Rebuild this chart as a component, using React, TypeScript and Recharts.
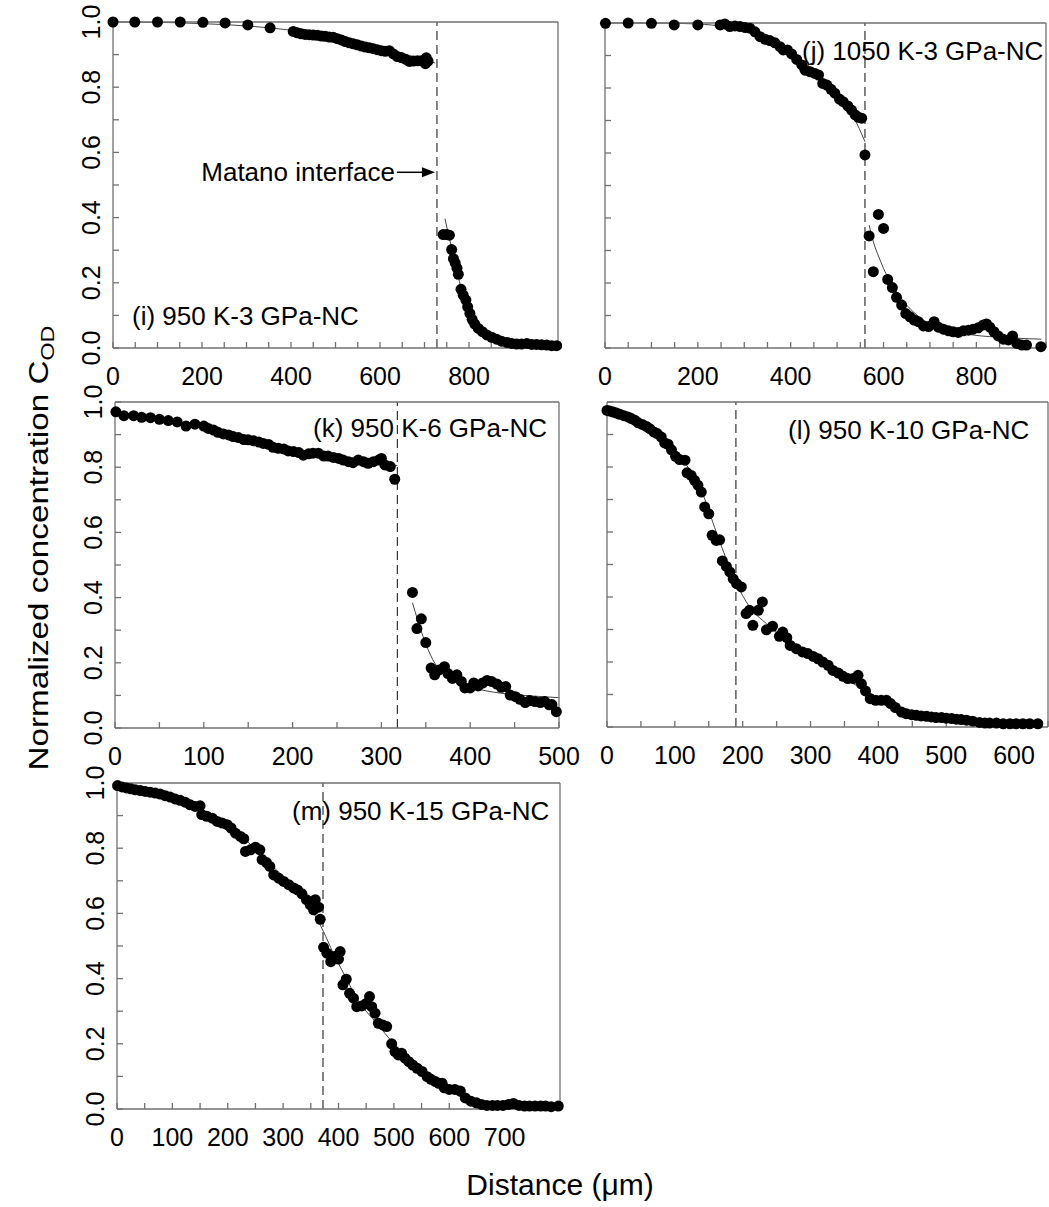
import React from 'react';
import {
  ComposedChart,
  Scatter,
  Line,
  XAxis,
  YAxis,
  ReferenceLine,
  ReferenceDot,
} from 'recharts';

const FONT = '"Liberation Sans", Arial, Helvetica, sans-serif';
const AXIS = '#707070';

// shared y ticks (every 0.1, labels every 0.2)
const yTicks = [0, 0.1, 0.2, 0.3, 0.4, 0.5, 0.6, 0.7, 0.8, 0.9, 1.0];
const yLabels = ['0.0', '0.2', '0.4', '0.6', '0.8', '1.0'];

// x ticks per panel
const xTicksI = [0, 50, 100, 150, 200, 250, 300, 350, 400, 450, 500, 550, 600, 650, 700, 750, 800, 850, 900, 950, 1000];
const xLabelsI = [0, 200, 400, 600, 800];
const xTicksJ = [0, 50, 100, 150, 200, 250, 300, 350, 400, 450, 500, 550, 600, 650, 700, 750, 800, 850, 900, 950];
const xLabelsJ = [0, 200, 400, 600, 800];
const xTicksK = [0, 50, 100, 150, 200, 250, 300, 350, 400, 450, 500];
const xLabelsK = [0, 100, 200, 300, 400, 500];
const xTicksL = [0, 50, 100, 150, 200, 250, 300, 350, 400, 450, 500, 550, 600, 650];
const xLabelsL = [0, 100, 200, 300, 400, 500, 600];
const xTicksM = [0, 50, 100, 150, 200, 250, 300, 350, 400, 450, 500, 550, 600, 650, 700, 750, 800];
const xLabelsM = [0, 100, 200, 300, 400, 500, 600, 700];

// (i) 950 K-3 GPa-NC
const pointsI: [number, number][] = [
  [0, 1.0], [49, 1.0], [100, 1.0], [151, 1.0], [202, 0.999], [252, 0.997], [303, 0.991], [353, 0.982],
  [405, 0.971], [414, 0.967], [423, 0.964], [432, 0.962], [441, 0.961], [450, 0.96], [459, 0.959], [468, 0.957],
  [477, 0.956], [486, 0.954], [495, 0.953], [504, 0.949], [513, 0.945], [522, 0.94], [531, 0.936], [540, 0.933],
  [549, 0.93], [558, 0.926], [567, 0.923], [576, 0.921], [585, 0.918], [594, 0.915], [603, 0.912], [612, 0.91],
  [621, 0.912], [630, 0.902], [639, 0.894], [648, 0.891], [657, 0.886], [666, 0.879], [675, 0.88], [684, 0.881],
  [693, 0.881], [700, 0.878], [702, 0.872], [704, 0.89], [708, 0.88],
  [742, 0.348], [750, 0.348], [756, 0.346], [761, 0.302], [765, 0.274], [769, 0.261], [773, 0.245], [776, 0.226],
  [782, 0.18], [787, 0.162], [793, 0.147], [797, 0.126], [802, 0.106], [807, 0.088], [813, 0.073], [821, 0.06],
  [830, 0.05], [840, 0.04], [851, 0.033], [862, 0.027], [873, 0.021], [885, 0.017], [896, 0.014], [907, 0.012],
  [918, 0.012], [930, 0.014], [941, 0.011], [952, 0.011], [963, 0.01], [975, 0.009], [986, 0.007], [997, 0.007],
];
const fitI1: [number, number][] = [
  [0, 1.0], [100, 0.999], [200, 0.995], [300, 0.988], [400, 0.975], [500, 0.955], [600, 0.922], [700, 0.884], [724, 0.874],
];
const fitI2: [number, number][] = [
  [746, 0.397], [757, 0.33], [766, 0.28], [776, 0.218], [786, 0.165], [795, 0.126], [806, 0.092], [817, 0.065],
  [835, 0.04], [854, 0.025], [880, 0.014], [910, 0.009], [950, 0.006], [1000, 0.004],
];

// (j) 1050 K-3 GPa-NC
const pointsJ: [number, number][] = [
  [1, 0.999], [50, 1.0], [100, 0.999], [149, 0.994], [200, 0.994], [248, 0.994], [258, 0.997], [269, 0.989],
  [280, 0.991], [291, 0.989], [302, 0.986], [312, 0.984], [323, 0.973], [334, 0.958], [345, 0.95], [355, 0.946],
  [366, 0.939], [377, 0.927], [384, 0.917], [393, 0.917], [402, 0.905], [413, 0.888], [424, 0.871], [431, 0.855],
  [442, 0.85], [452, 0.845], [460, 0.84], [469, 0.814], [478, 0.809], [487, 0.796], [495, 0.784], [505, 0.766],
  [513, 0.758], [523, 0.745], [531, 0.732], [539, 0.717], [546, 0.71], [553, 0.707], [560, 0.594],
  [569, 0.345], [578, 0.235], [589, 0.411], [600, 0.368], [609, 0.211], [619, 0.186], [628, 0.156], [639, 0.132],
  [648, 0.106], [657, 0.096], [666, 0.086], [675, 0.081], [686, 0.068], [697, 0.066], [709, 0.081], [718, 0.064],
  [729, 0.058], [740, 0.053], [750, 0.05], [761, 0.048], [772, 0.053], [783, 0.055], [793, 0.058], [804, 0.062],
  [815, 0.071], [822, 0.074], [829, 0.064], [838, 0.05], [847, 0.037], [858, 0.027], [869, 0.025], [878, 0.037],
  [887, 0.014], [898, 0.009], [908, 0.009], [939, 0.004],
];
const fitJ1: [number, number][] = [
  [0, 1.0], [100, 1.0], [200, 0.997], [260, 0.988], [310, 0.974], [350, 0.955], [385, 0.927], [420, 0.89],
  [456, 0.847], [490, 0.8], [506, 0.773], [535, 0.712], [560, 0.635],
];
const fitJ2: [number, number][] = [
  [569, 0.378], [578, 0.327], [590, 0.28], [600, 0.245], [621, 0.189], [650, 0.132], [686, 0.086], [722, 0.06],
  [760, 0.048], [793, 0.04], [865, 0.032], [940, 0.027],
];

// (k) 950 K-6 GPa-NC
const pointsK: [number, number][] = [
  [1, 0.97], [10, 0.958], [21, 0.958], [30, 0.953], [40, 0.952], [50, 0.947], [60, 0.943], [70, 0.939],
  [80, 0.926], [90, 0.932], [100, 0.926], [105, 0.919], [111, 0.914], [116, 0.907], [122, 0.902], [128, 0.899],
  [133, 0.894], [139, 0.891], [145, 0.885], [150, 0.884], [156, 0.881], [162, 0.877], [167, 0.873], [173, 0.87],
  [178, 0.861], [184, 0.858], [190, 0.856], [195, 0.85], [201, 0.848], [207, 0.845], [212, 0.837], [218, 0.841],
  [223, 0.843], [229, 0.843], [235, 0.834], [240, 0.834], [246, 0.83], [252, 0.827], [257, 0.822], [263, 0.817],
  [268, 0.814], [274, 0.822], [280, 0.817], [285, 0.812], [291, 0.817], [297, 0.822], [300, 0.827], [304, 0.807],
  [310, 0.802], [315, 0.763],
  [335, 0.416], [340, 0.305], [345, 0.335], [350, 0.262], [356, 0.184], [360, 0.163], [365, 0.178], [371, 0.188],
  [375, 0.167], [380, 0.152], [385, 0.163], [390, 0.143], [394, 0.123], [400, 0.123], [404, 0.138], [409, 0.129],
  [414, 0.138], [419, 0.146], [424, 0.143], [430, 0.135], [435, 0.125], [440, 0.127], [445, 0.101], [451, 0.096],
  [456, 0.088], [462, 0.078], [467, 0.084], [473, 0.081], [479, 0.078], [484, 0.081], [489, 0.071], [492, 0.072],
  [497, 0.05],
];
const fitK1: [number, number][] = [[0, 0.965], [100, 0.923], [200, 0.852], [260, 0.825], [318, 0.805]];
const fitK2: [number, number][] = [
  [335, 0.384], [347, 0.28], [358, 0.209], [377, 0.153], [404, 0.123], [434, 0.107], [471, 0.098], [500, 0.093],
];

// (l) 950 K-10 GPa-NC
const pointsL: [number, number][] = [
  [0, 0.974], [4, 0.972], [9, 0.969], [14, 0.966], [19, 0.962], [25, 0.958], [31, 0.954], [36, 0.949],
  [41, 0.944], [46, 0.936], [52, 0.931], [58, 0.925], [63, 0.918], [69, 0.908], [74, 0.903], [80, 0.892],
  [85, 0.874], [90, 0.87], [95, 0.853], [101, 0.833], [107, 0.823], [115, 0.821], [118, 0.782], [124, 0.774],
  [129, 0.759], [134, 0.744], [139, 0.723], [144, 0.677], [150, 0.656], [155, 0.59], [161, 0.574], [166, 0.576],
  [170, 0.511], [176, 0.494], [181, 0.477], [186, 0.456], [191, 0.441], [198, 0.431], [205, 0.349], [210, 0.359],
  [215, 0.313], [223, 0.359], [229, 0.385], [235, 0.299], [244, 0.31], [254, 0.279], [259, 0.292], [265, 0.275],
  [270, 0.251], [279, 0.241], [288, 0.231], [296, 0.226], [304, 0.217], [311, 0.21], [318, 0.2], [326, 0.19],
  [333, 0.174], [341, 0.166], [348, 0.156], [355, 0.149], [363, 0.149], [370, 0.159], [375, 0.133], [381, 0.111],
  [388, 0.087], [396, 0.082], [404, 0.082], [412, 0.082], [418, 0.072], [425, 0.06], [434, 0.046], [441, 0.041],
  [449, 0.038], [456, 0.036], [463, 0.034], [471, 0.033], [478, 0.031], [485, 0.029], [493, 0.029], [500, 0.027],
  [508, 0.026], [515, 0.024], [522, 0.023], [530, 0.021], [539, 0.018], [549, 0.014], [557, 0.012], [564, 0.012],
  [574, 0.012], [584, 0.01], [594, 0.01], [603, 0.01], [613, 0.01], [623, 0.01], [635, 0.01],
];
const fitL: [number, number][] = [
  [0, 0.979], [30, 0.96], [63, 0.923], [90, 0.875], [112, 0.821], [141, 0.718], [161, 0.6], [191, 0.441],
  [210, 0.37], [235, 0.318], [260, 0.275], [284, 0.236], [310, 0.205], [333, 0.17], [372, 0.123], [407, 0.082],
  [430, 0.055], [456, 0.036], [490, 0.024], [530, 0.015], [580, 0.006], [635, 0.0],
];

// (m) 950 K-15 GPa-NC
const pointsM: [number, number][] = [
  [1, 0.992], [9, 0.988], [17, 0.985], [25, 0.982], [33, 0.979], [42, 0.977], [51, 0.974], [60, 0.972],
  [69, 0.969], [78, 0.966], [87, 0.961], [96, 0.957], [105, 0.951], [114, 0.947], [123, 0.941], [132, 0.933],
  [141, 0.928], [150, 0.93], [153, 0.903], [162, 0.898], [172, 0.892], [181, 0.882], [190, 0.877], [199, 0.872],
  [206, 0.862], [214, 0.846], [223, 0.836], [229, 0.829], [232, 0.79], [241, 0.795], [250, 0.803], [258, 0.795],
  [262, 0.765], [270, 0.756], [276, 0.744], [283, 0.718], [292, 0.708], [301, 0.698], [310, 0.688], [319, 0.678],
  [326, 0.672], [334, 0.66], [342, 0.642], [349, 0.626], [355, 0.611], [358, 0.642], [364, 0.619], [367, 0.582],
  [373, 0.496], [379, 0.478], [386, 0.452], [392, 0.468], [400, 0.46], [403, 0.483], [408, 0.381], [414, 0.398],
  [420, 0.355], [427, 0.34], [433, 0.314], [442, 0.316], [450, 0.324], [456, 0.345], [460, 0.314], [466, 0.294],
  [472, 0.263], [480, 0.258], [487, 0.253], [496, 0.2], [502, 0.176], [508, 0.166], [514, 0.171], [520, 0.156],
  [527, 0.145], [534, 0.135], [542, 0.125], [551, 0.115], [560, 0.099], [567, 0.091], [575, 0.084], [581, 0.079],
  [587, 0.079], [591, 0.065], [600, 0.06], [610, 0.06], [620, 0.055], [629, 0.034], [639, 0.024], [649, 0.019],
  [658, 0.014], [668, 0.011], [678, 0.011], [687, 0.011], [697, 0.011], [707, 0.014], [716, 0.017], [726, 0.011],
  [736, 0.009], [745, 0.009], [755, 0.009], [765, 0.009], [774, 0.009], [784, 0.007], [797, 0.009],
];
const fitM: [number, number][] = [
  [0, 0.998], [78, 0.969], [138, 0.928], [199, 0.872], [230, 0.83], [259, 0.78], [290, 0.73], [319, 0.683],
  [355, 0.601], [373, 0.544], [390, 0.48], [409, 0.417], [439, 0.324], [469, 0.263], [499, 0.201], [520, 0.16],
  [542, 0.117], [575, 0.08], [607, 0.05], [630, 0.028], [652, 0.009], [700, 0.0], [797, 0.0],
];

// Matano interface positions (um)
const matanoI = 728;
const matanoJ = 560;
const matanoK = 318;
const matanoL = 190;
const matanoM = 372;

const toXY = (arr: [number, number][]) => arr.map(([x, y]) => ({ x, y }));

const Dot = (props: any) => <circle cx={props.cx} cy={props.cy} r={5.5} fill="#000" />;

const makeYTick = (showLabels: boolean) => (props: any) => {
  const { x, y, payload } = props;
  const lbl = payload.value.toFixed(1);
  if (!showLabels || !yLabels.includes(lbl)) return <g />;
  return (
    <text
      x={x}
      y={y}
      transform={`rotate(-90 ${x} ${y})`}
      textAnchor="middle"
      fontSize={25}
      fontFamily={FONT}
      fill="#000"
    >
      {lbl}
    </text>
  );
};

const matanoLabel = (props: any) => {
  const vb = props.viewBox || {};
  const x = vb.x + (vb.width || 0) / 2;
  const y = vb.y + (vb.height || 0) / 2;
  return (
    <g>
      <text x={x - 42} y={y + 9} textAnchor="end" fontSize={26} fontFamily={FONT} fill="#000">
        Matano interface
      </text>
      <line x1={x - 40} y1={y} x2={x - 12} y2={y} stroke="#000" strokeWidth={1.5} />
      <polygon points={`${x - 2},${y} ${x - 15},${y - 5} ${x - 15},${y + 5}`} fill="#000" />
    </g>
  );
};

interface PanelProps {
  box: { x: number; y: number; w: number; h: number };
  xMax: number;
  xTicks: number[];
  xLabels: number[];
  showY: boolean;
  points: [number, number][];
  fits: [number, number][][];
  matano: number;
  padR: number;
  annotate?: boolean;
}

const PL = 70;
const PT = 30;
const PB = 50;

const Panel: React.FC<PanelProps> = ({ box, xMax, xTicks, xLabels, showY, points, fits, matano, padR, annotate }) => {
  const w = box.w + PL + padR;
  const h = box.h + PT + PB;
  return (
    <div style={{ position: 'absolute', left: box.x - PL, top: box.y - PT, width: w, height: h }}>
      <ComposedChart width={w} height={h} margin={{ top: PT - 1, right: padR - 1, bottom: 0, left: 0 }}>
        <XAxis
          xAxisId="b"
          type="number"
          dataKey="x"
          domain={[0, xMax]}
          ticks={xTicks}
          interval={0}
          height={PB}
          tickSize={-6}
          tickMargin={25}
          stroke={AXIS}
          strokeWidth={1.3}
          tick={{ fontSize: 25, fill: '#000', fontFamily: FONT }}
          tickFormatter={(v: number) => (xLabels.includes(v) ? String(v) : '')}
        />
        <XAxis
          xAxisId="t"
          orientation="top"
          type="number"
          dataKey="x"
          domain={[0, xMax]}
          ticks={xTicks}
          interval={0}
          height={1}
          tickSize={-6}
          stroke={AXIS}
          strokeWidth={1.3}
          tickFormatter={() => ''}
        />
        <YAxis
          yAxisId="l"
          type="number"
          dataKey="y"
          domain={[0, 1]}
          ticks={yTicks}
          interval={0}
          width={PL}
          tickSize={-6}
          tickMargin={19}
          stroke={AXIS}
          strokeWidth={1.3}
          tick={makeYTick(showY)}
        />
        <YAxis
          yAxisId="r"
          orientation="right"
          type="number"
          dataKey="y"
          domain={[0, 1]}
          ticks={yTicks}
          interval={0}
          width={1}
          tickSize={-6}
          stroke={AXIS}
          strokeWidth={1.3}
          tickFormatter={() => ''}
        />
        <ReferenceLine xAxisId="b" yAxisId="l" x={matano} stroke="#333" strokeWidth={1.2} strokeDasharray="9 5" />
        {fits.map((f, i) => (
          <Line
            key={i}
            xAxisId="b"
            yAxisId="l"
            data={toXY(f)}
            dataKey="y"
            type="monotone"
            dot={false}
            stroke="#444"
            strokeWidth={1}
            isAnimationActive={false}
          />
        ))}
        <Scatter xAxisId="b" yAxisId="l" data={toXY(points)} shape={Dot} isAnimationActive={false} />
        {annotate && (
          <ReferenceDot
            xAxisId="b"
            yAxisId="l"
            x={matano}
            y={0.539}
            r={0}
            fill="none"
            stroke="none"
            label={matanoLabel}
          />
        )}
      </ComposedChart>
    </div>
  );
};

const panelLabelStyle = { fontSize: 26, fontFamily: FONT, fill: '#000' };

export default function App() {
  return (
    <div style={{ position: 'absolute', left: 0, top: 0, width: 1049, height: 1207, background: '#fff', overflow: 'hidden' }}>
      <Panel box={{ x: 113, y: 22, w: 445, h: 326 }} xMax={1000} xTicks={xTicksI} xLabels={xLabelsI} showY
        points={pointsI} fits={[fitI1, fitI2]} matano={matanoI} padR={30} annotate />
      <Panel box={{ x: 605, y: 23, w: 441, h: 325 }} xMax={950} xTicks={xTicksJ} xLabels={xLabelsJ} showY={false}
        points={pointsJ} fits={[fitJ1, fitJ2]} matano={matanoJ} padR={3} />
      <Panel box={{ x: 115, y: 402, w: 444, h: 326 }} xMax={500} xTicks={xTicksK} xLabels={xLabelsK} showY
        points={pointsK} fits={[fitK1, fitK2]} matano={matanoK} padR={30} />
      <Panel box={{ x: 607, y: 402, w: 441, h: 325 }} xMax={650} xTicks={xTicksL} xLabels={xLabelsL} showY={false}
        points={pointsL} fits={[fitL]} matano={matanoL} padR={1} />
      <Panel box={{ x: 117, y: 783, w: 443, h: 326 }} xMax={800} xTicks={xTicksM} xLabels={xLabelsM} showY
        points={pointsM} fits={[fitM]} matano={matanoM} padR={30} />
      <svg width={1049} height={1207} style={{ position: 'absolute', left: 0, top: 0, pointerEvents: 'none' }}>
        <text x={132} y={325} {...panelLabelStyle}>(i) 950 K-3 GPa-NC</text>
        <text x={802} y={60} {...panelLabelStyle}>(j) 1050 K-3 GPa-NC</text>
        <text x={313} y={437} {...panelLabelStyle}>(k) 950 K-6 GPa-NC</text>
        <text x={788} y={439} {...panelLabelStyle}>(l) 950 K-10 GPa-NC</text>
        <text x={292} y={820} {...panelLabelStyle}>(m) 950 K-15 GPa-NC</text>
        <text
          x={48}
          y={548}
          transform="rotate(-90 48 548)"
          textAnchor="middle"
          fontSize={27}
          fontFamily={FONT}
          fill="#000"
          textLength={445}
          lengthAdjust="spacingAndGlyphs"
        >
          Normalized concentration C<tspan fontSize={19} dy={6}>OD</tspan>
        </text>
        <text x={560} y={1195} textAnchor="middle" fontSize={30} fontFamily={FONT} fill="#000">
          Distance (μm)
        </text>
      </svg>
    </div>
  );
}
